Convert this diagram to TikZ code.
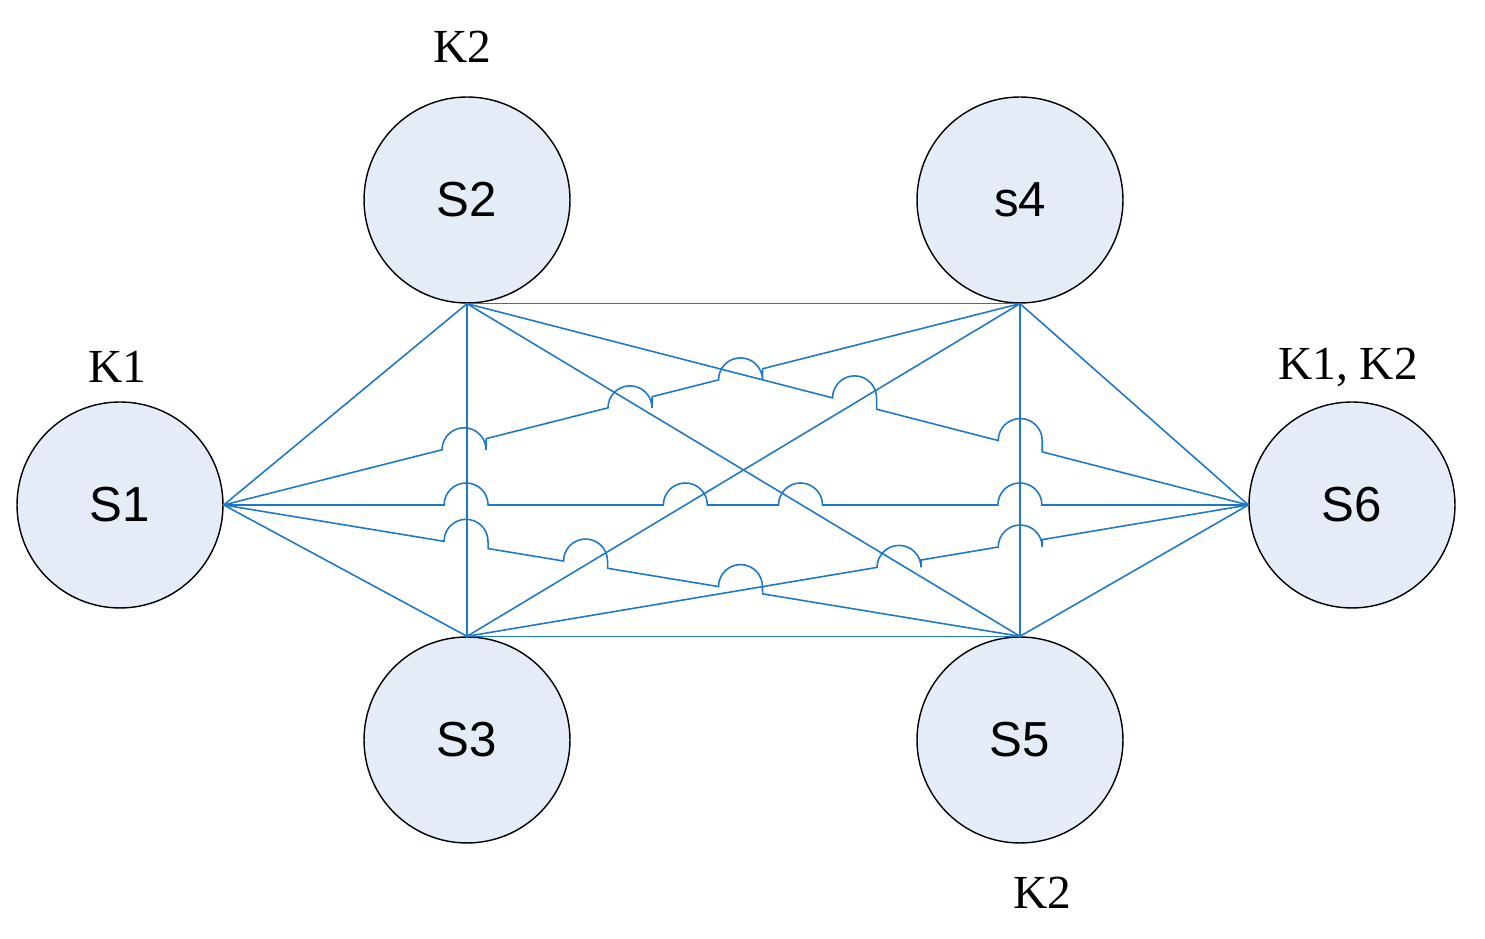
\documentclass[tikz,border=0pt]{standalone}
\usepackage{fontspec}
\setmainfont{Liberation Serif}
\setsansfont{Liberation Sans}
\usetikzlibrary{calc}
\definecolor{linkblue}{RGB}{30,120,200}
\definecolor{stfill}{RGB}{228,236,247}

\begin{document}
\begin{tikzpicture}[x=0.02cm, y=0.02cm]
    \tikzstyle{station} = [circle, draw, fill=stfill, line width=0.8pt, minimum size=4.12cm, inner sep=0pt, font=\sffamily\fontsize{28}{28}\selectfont]
    \tikzstyle{link} = [draw=linkblue, line width=0.9pt]
    \tikzstyle{tag} = [font=\fontsize{27}{27}\selectfont]
    \useasboundingbox (0,0) rectangle (1485,939);

    % Stations
    \node[station] (s1) at (120,434) {S1};
    \node[station] (s2) at (467,739) {S2};
    \node[station] (s3) at (467,199) {S3};
    \node[station] (s4) at (1020,739) {s4};
    \node[station] (s5) at (1020,199) {S5};
    \node[station] (s6) at (1352,434) {S6};

    % Tags
    \node[tag] (k2a) at (462,892) {K2};
    \node[tag] (k1) at (117,572) {K1};
    \node[tag] (k12) at (1348,572) {K1, K2};
    \node[tag] (k2b) at (1042,46) {K2};

    % Plain links
    \draw[link] (s2.south) -- (s4.south);
    \draw[link] (s3.north) -- (s5.north);
    \draw[link] (s1.east) -- (s2.south);
    \draw[link] (s1.east) -- (s3.north);
    \draw[link] (s2.south) -- (s3.north);
    \draw[link] (s4.south) -- (s5.north);
    \draw[link] (s4.south) -- (s6.west);
    \draw[link] (s5.north) -- (s6.west);
    \draw[link] (s2.south) -- (s5.north);
    \draw[link] (s4.south) -- (s3.north);

    % Links with hops
    \draw[link] (s1.east) -- ($(s1.east)!0.2742!(s4.south)$) arc[start angle=180, end angle=0, radius=0.44cm]
        -- ($(s1.east)!0.3296!(s4.south)$) -- ($(s1.east)!0.4826!(s4.south)$) arc[start angle=180, end angle=0, radius=0.44cm]
        -- ($(s1.east)!0.5380!(s4.south)$) -- ($(s1.east)!0.6214!(s4.south)$) arc[start angle=180, end angle=0, radius=0.44cm]
        -- ($(s1.east)!0.6767!(s4.south)$) -- (s4.south);
    \draw[link] (s1.east) -- ($(s1.east)!0.2151!(s6.west)$) arc[start angle=180, end angle=0, radius=0.44cm]
        -- ($(s1.east)!0.4291!(s6.west)$) arc[start angle=180, end angle=0, radius=0.44cm]
        -- ($(s1.east)!0.5415!(s6.west)$) arc[start angle=180, end angle=0, radius=0.44cm]
        -- ($(s1.east)!0.7556!(s6.west)$) arc[start angle=180, end angle=0, radius=0.44cm]
        -- (s6.west);
    \draw[link] (s1.east) -- ($(s1.east)!0.2767!(s5.north)$) arc[start angle=180, end angle=0, radius=0.44cm]
        -- ($(s1.east)!0.3321!(s5.north)$) -- ($(s1.east)!0.4268!(s5.north)$) arc[start angle=180, end angle=0, radius=0.44cm]
        -- ($(s1.east)!0.4821!(s5.north)$) -- ($(s1.east)!0.6214!(s5.north)$) arc[start angle=180, end angle=0, radius=0.44cm]
        -- ($(s1.east)!0.6767!(s5.north)$) -- (s5.north);
    \draw[link] (s2.south) -- ($(s2.south)!0.4679!(s6.west)$) arc[start angle=180, end angle=0, radius=0.44cm]
        -- ($(s2.south)!0.5242!(s6.west)$) -- ($(s2.south)!0.6799!(s6.west)$) arc[start angle=180, end angle=0, radius=0.44cm]
        -- ($(s2.south)!0.7362!(s6.west)$) -- (s6.west);
    \draw[link] (s3.north) -- ($(s3.north)!0.5248!(s6.west)$) arc[start angle=180, end angle=0, radius=0.44cm]
        -- ($(s3.north)!0.5812!(s6.west)$) -- ($(s3.north)!0.6799!(s6.west)$) arc[start angle=180, end angle=0, radius=0.44cm]
        -- ($(s3.north)!0.7362!(s6.west)$) -- (s6.west);
\end{tikzpicture}
\end{document}
